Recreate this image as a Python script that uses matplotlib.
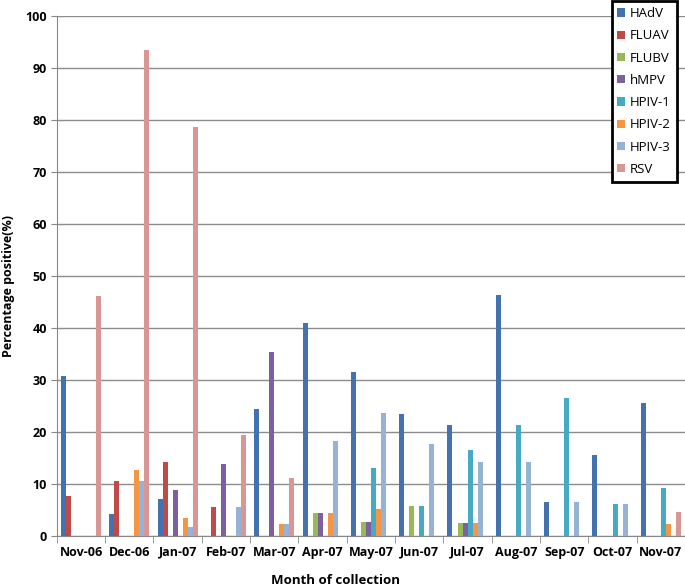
import numpy as np
import matplotlib

matplotlib.use("Agg")
import matplotlib.pyplot as plt

plt.rcParams["font.family"] = ["Open Sans", "DejaVu Sans"]

months = ["Nov-06", "Dec-06", "Jan-07", "Feb-07", "Mar-07", "Apr-07", "May-07",
          "Jun-07", "Jul-07", "Aug-07", "Sep-07", "Oct-07", "Nov-07"]
viruses = ["HAdV", "FLUAV", "FLUBV", "hMPV", "HPIV-1", "HPIV-2", "HPIV-3", "RSV"]

hadv = [30.7, 4.2, 7.1, 0, 24.4, 41.0, 31.5, 23.5, 21.4, 46.4, 6.6, 15.5, 25.5]
fluav = [7.7, 10.6, 14.2, 5.5, 0, 0, 0, 0, 0, 0, 0, 0, 0]
flubv = [0, 0, 0, 0, 0, 4.5, 2.6, 5.8, 2.4, 0, 0, 0, 0]
hmpv = [0, 0, 8.8, 13.8, 35.4, 4.5, 2.6, 0, 2.4, 0, 0, 0, 0]
hpiv1 = [0, 0, 0, 0, 0, 0, 13.1, 5.8, 16.6, 21.4, 26.6, 6.2, 9.3]
hpiv2 = [0, 12.7, 3.5, 0, 2.2, 4.5, 5.2, 0, 2.4, 0, 0, 0, 2.3]
hpiv3 = [0, 10.6, 1.7, 5.5, 2.2, 18.2, 23.6, 17.7, 14.3, 14.3, 6.6, 6.2, 0]
rsv = [46.2, 93.5, 78.6, 19.4, 11.1, 0, 0, 0, 0, 0, 0, 0, 4.6]

series = [hadv, fluav, flubv, hmpv, hpiv1, hpiv2, hpiv3, rsv]
colors = ["#4472B0", "#BE4B48", "#98B954", "#7D60A0", "#46AAC5",
          "#F59645", "#95B3D7", "#D99694"]

fig = plt.figure(figsize=(6.85, 5.87), dpi=100)
ax = fig.add_axes([0.083, 0.087, 0.917, 0.886])

x = np.arange(len(months))
w = 0.104
for i, (vals, name, c) in enumerate(zip(series, viruses, colors)):
    ax.bar(x + (i - 3.5) * w, vals, width=w, color=c, label=name, zorder=3)

ax.set_xlim(-0.5, len(months) - 0.5)
ax.set_ylim(0, 100)
ax.set_yticks(range(0, 101, 10))
ax.set_xticks(x)
ax.set_xticklabels(months)
ax.set_xticks(np.arange(-0.5, len(months), 1), minor=True)
ax.tick_params(axis="x", which="major", length=0, pad=7)
ax.tick_params(axis="x", which="minor", length=5, color="#888888")
ax.tick_params(axis="y", length=4, color="#888888", pad=3)
for lab in ax.get_xticklabels() + ax.get_yticklabels():
    lab.set_fontweight("bold")
    lab.set_fontsize(9)

ax.grid(axis="y", color="#8c8c8c", lw=1, zorder=0)
for s in ["top", "right"]:
    ax.spines[s].set_visible(False)
ax.spines["left"].set_color("#888888")
ax.spines["bottom"].set_color("#888888")

ax.set_xlabel("Month of collection", fontsize=9.5, fontweight="bold")
ax.xaxis.set_label_coords(0.443, -0.073)
ax.set_ylabel("Percentage positive(%)", fontsize=9, fontweight="bold")
ax.yaxis.set_label_coords(-0.066, 0.48)

leg = ax.legend(loc="upper right", bbox_to_anchor=(0.987, 1.028), frameon=True,
                fancybox=False, fontsize=9.5, handlelength=0.6, handleheight=0.6,
                labelspacing=0.7, borderpad=0.45, handletextpad=0.35,
                borderaxespad=0)
leg.get_frame().set_edgecolor("black")
leg.get_frame().set_linewidth(2)
leg.get_frame().set_alpha(1)

fig.savefig("out.png", dpi=100)
